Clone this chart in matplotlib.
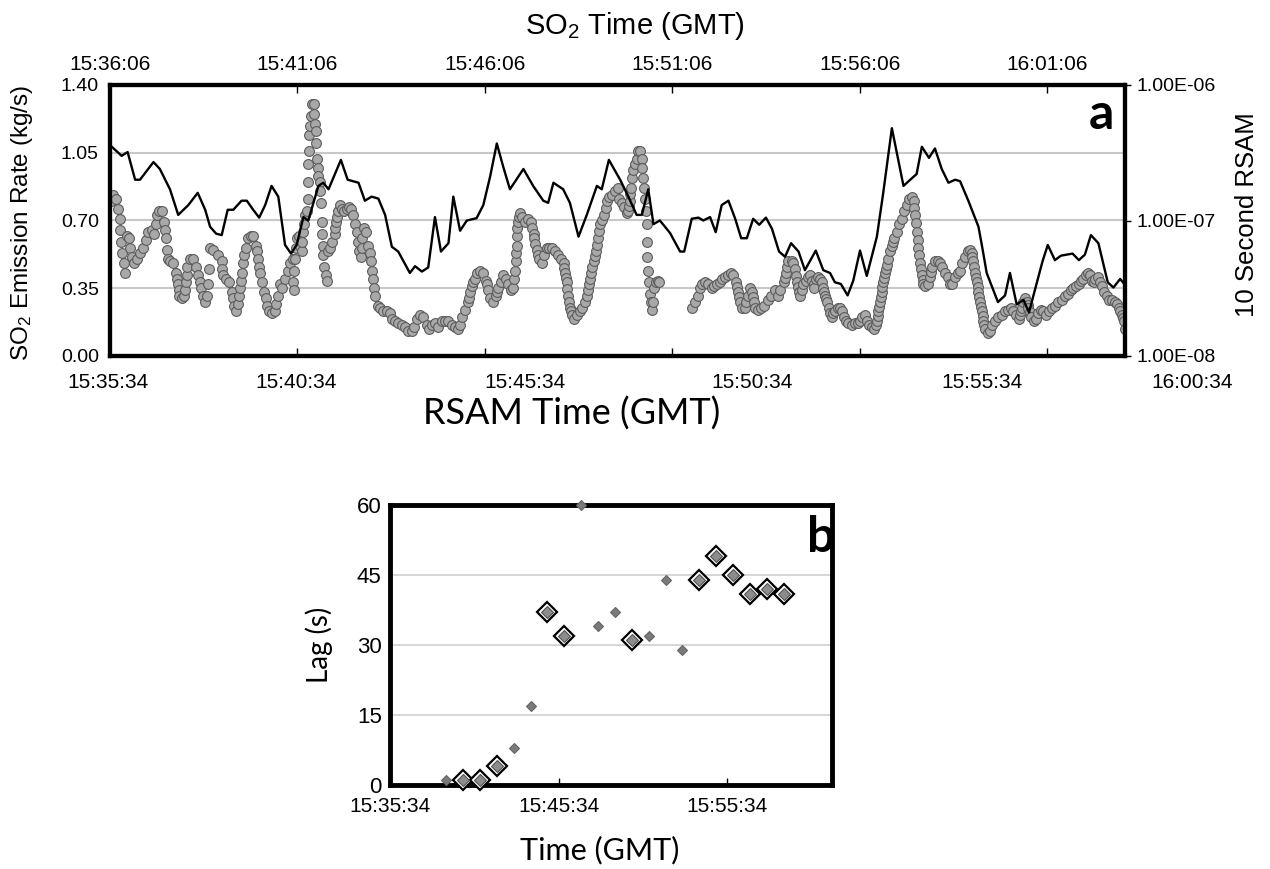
import numpy as np
import matplotlib
matplotlib.use('Agg')
import matplotlib.pyplot as plt
from matplotlib.ticker import FuncFormatter, NullLocator

plt.rcParams['font.family'] = ['Liberation Sans', 'DejaVu Sans']
plt.rcParams['mathtext.fontset'] = 'custom'
plt.rcParams['mathtext.rm'] = 'Liberation Sans'
plt.rcParams['mathtext.it'] = 'Liberation Sans'

# ---- panel a: SO2 emission rate, minutes after 15:36:06 (SO2 clock) ----
so2_t = [0.03, 0.09, 0.15, 0.21, 0.26, 0.28, 0.29, 0.31, 0.37, 0.40, 0.45, 0.51, 0.53, 0.58, 0.65,
         0.71, 0.80, 0.89, 0.95, 1.02, 1.11, 1.18, 1.22, 1.25, 1.31, 1.38, 1.44, 1.47, 1.49, 1.52,
         1.54, 1.60, 1.69, 1.75, 1.78, 1.81, 1.83, 1.84, 1.91, 1.98, 2.01, 2.03, 2.05, 2.06, 2.13,
         2.22, 2.29, 2.36, 2.39, 2.42, 2.47, 2.54, 2.58, 2.62, 2.63, 2.67, 2.76, 2.89, 2.98, 3.00,
         3.02, 3.09, 3.18, 3.25, 3.29, 3.32, 3.35, 3.41, 3.44, 3.47, 3.50, 3.53, 3.56, 3.58, 3.63,
         3.69, 3.76, 3.82, 3.89, 3.92, 3.94, 3.97, 3.99, 4.06, 4.12, 4.15, 4.18, 4.24, 4.31, 4.40,
         4.44, 4.47, 4.54,
         4.60, 4.67, 4.74, 4.80, 4.87, 4.89, 4.90, 4.92, 4.94, 4.96, 4.98, 5.03, 5.07, 5.11, 5.13,
         5.16, 5.18, 5.20, 5.25, 5.27, 5.28, 5.29, 5.30, 5.31, 5.34, 5.36, 5.38, 5.43, 5.45, 5.47,
         5.49, 5.50, 5.51, 5.54, 5.56, 5.59, 5.60, 5.63, 5.65, 5.66, 5.67, 5.69, 5.72, 5.75, 5.78,
         5.81, 5.87, 5.93, 5.99, 6.01, 6.03, 6.05, 6.07, 6.14, 6.20, 6.25, 6.31, 6.38, 6.43, 6.49,
         6.54, 6.58, 6.61, 6.64, 6.70, 6.71, 6.73, 6.77, 6.82, 6.89, 6.93, 6.96, 6.99, 7.03, 7.05,
         7.07, 7.14, 7.20, 7.29, 7.38, 7.47, 7.53, 7.60, 7.69, 7.78, 7.87, 7.96, 8.05, 8.12, 8.18,
         8.27, 8.36, 8.45, 8.51, 8.58, 8.67, 8.76, 8.85, 8.94, 9.03,
         9.12, 9.21, 9.28, 9.34, 9.40, 9.47, 9.54, 9.57, 9.61, 9.65, 9.69, 9.73, 9.78, 9.87, 9.96,
         10.02, 10.05, 10.08, 10.14, 10.23, 10.29, 10.33, 10.36, 10.43, 10.49, 10.56, 10.63, 10.70,
         10.76, 10.79, 10.80, 10.82, 10.83, 10.85, 10.86, 10.87, 10.88, 10.90, 10.94, 11.00, 11.07,
         11.16, 11.23, 11.27, 11.30, 11.32, 11.35, 11.38, 11.42, 11.45, 11.52, 11.59, 11.65, 11.71,
         11.78, 11.87, 11.96, 12.03, 12.10, 12.12, 12.14, 12.16, 12.18, 12.20, 12.23, 12.25, 12.27,
         12.30, 12.32, 12.37, 12.45, 12.54, 12.60, 12.66, 12.72, 12.75, 12.78, 12.80, 12.83, 12.86,
         12.90, 12.93, 12.96, 12.98, 13.01, 13.04, 13.07, 13.12, 13.19, 13.22, 13.25, 13.31, 13.39,
         13.47, 13.56,
         13.58, 13.65, 13.72, 13.79, 13.83, 13.85, 13.87, 13.88, 13.90, 13.94, 13.96, 14.01, 14.05,
         14.10, 14.14, 14.19, 14.20, 14.23, 14.26, 14.27, 14.29, 14.32, 14.33, 14.34, 14.36, 14.38,
         14.41, 14.43, 14.47, 14.50, 14.52, 14.56, 14.61, 14.66,
         15.54, 15.61, 15.68, 15.74, 15.80, 15.88, 15.96, 16.05, 16.12, 16.19, 16.28, 16.34, 16.41,
         16.50, 16.57, 16.63, 16.69, 16.72, 16.75, 16.78, 16.81, 16.87, 16.94, 16.98, 17.02, 17.08,
         17.12, 17.15, 17.17, 17.21, 17.28, 17.37, 17.46, 17.55, 17.64, 17.73, 17.82, 17.88, 17.97,
         18.00, 18.03, 18.06, 18.10,
         18.19, 18.23, 18.28, 18.30, 18.32, 18.35, 18.37, 18.41, 18.45, 18.50, 18.56, 18.61, 18.68,
         18.72, 18.77, 18.79, 18.83, 18.88, 18.94, 18.99, 19.03, 19.05, 19.08, 19.10, 19.12, 19.17,
         19.21, 19.25, 19.30, 19.34, 19.42, 19.48, 19.52, 19.57, 19.63, 19.70, 19.79, 19.88, 19.95,
         20.01, 20.07, 20.13, 20.19, 20.25, 20.32, 20.39, 20.43, 20.46, 20.48, 20.50, 20.52, 20.54,
         20.56, 20.59, 20.61, 20.63, 20.65, 20.68, 20.70, 20.72, 20.77, 20.81, 20.86, 20.89, 20.93,
         20.99, 21.05, 21.12, 21.19, 21.26, 21.32, 21.39, 21.44, 21.46, 21.48, 21.50, 21.52, 21.545,
         21.57, 21.59, 21.61, 21.635, 21.66, 21.68, 21.70, 21.75, 21.82, 21.88, 21.91, 21.94, 22.01,
         22.08, 22.15, 22.21, 22.28, 22.35, 22.41, 22.46, 22.55, 22.62, 22.68,
         22.74, 22.81, 22.88, 22.95, 22.99, 23.01, 23.03, 23.055, 23.08, 23.10, 23.12, 23.145, 23.17,
         23.19, 23.21, 23.235, 23.26, 23.28, 23.30, 23.325, 23.35, 23.42, 23.48, 23.54, 23.61, 23.70,
         23.79, 23.88, 23.97, 24.04, 24.10, 24.16, 24.24, 24.28, 24.30, 24.32, 24.37, 24.41, 24.46,
         24.48, 24.50, 24.535, 24.57, 24.64, 24.70, 24.77, 24.84, 24.90, 24.97, 25.04, 25.13, 25.21,
         25.30, 25.39, 25.48, 25.57, 25.64, 25.70, 25.77, 25.84, 25.91, 25.97, 26.03, 26.09, 26.15,
         26.19, 26.24, 26.28, 26.35, 26.42, 26.46, 26.53, 26.59, 26.66, 26.73, 26.80, 26.86, 26.92,
         26.955, 26.99, 27.025, 27.06, 27.09]
so2_rate = [0.80, 0.83, 0.81, 0.76, 0.71, 0.65, 0.59, 0.53, 0.48, 0.43, 0.62, 0.61, 0.56, 0.51, 0.48,
            0.50, 0.53, 0.56, 0.60, 0.64, 0.65, 0.63, 0.68, 0.73, 0.75, 0.75, 0.69, 0.65, 0.61, 0.55,
            0.50, 0.49, 0.48, 0.43, 0.40, 0.37, 0.34, 0.31, 0.30, 0.31, 0.34, 0.38, 0.42, 0.46, 0.50,
            0.50, 0.46, 0.42, 0.38, 0.35, 0.31, 0.28, 0.31, 0.37, 0.45, 0.56, 0.55, 0.52, 0.49, 0.45,
            0.42, 0.40, 0.38, 0.33, 0.30, 0.26, 0.23, 0.27, 0.31, 0.35, 0.39, 0.43, 0.48, 0.52, 0.56,
            0.61, 0.62, 0.62, 0.57, 0.54, 0.50, 0.46, 0.43, 0.38, 0.33, 0.30, 0.26, 0.23, 0.22, 0.23,
            0.27, 0.31, 0.37,
            0.35, 0.40, 0.44, 0.48, 0.50, 0.38, 0.44, 0.34, 0.50, 0.56, 0.61, 0.62, 0.57, 0.54, 0.59,
            0.64, 0.68, 0.73, 0.75, 0.81, 0.90, 0.99, 1.06, 1.14, 1.19, 1.24, 1.30, 1.30, 1.25, 1.20,
            1.16, 1.10, 1.02, 0.97, 0.93, 0.90, 0.85, 0.79, 0.69, 0.63, 0.57, 0.52, 0.46, 0.42, 0.39,
            0.54, 0.56, 0.59, 0.63, 0.66, 0.69, 0.72, 0.75, 0.78, 0.76, 0.75, 0.76, 0.77, 0.76, 0.73,
            0.68, 0.64, 0.59, 0.54, 0.51, 0.56, 0.61, 0.66, 0.64, 0.57, 0.53, 0.49, 0.44, 0.40, 0.35,
            0.31, 0.26, 0.25, 0.23, 0.23, 0.22, 0.19, 0.18, 0.17, 0.16, 0.15, 0.13, 0.13, 0.15, 0.19,
            0.21, 0.20, 0.16, 0.14, 0.16, 0.17, 0.15, 0.18, 0.18, 0.18,
            0.16, 0.15, 0.14, 0.16, 0.20, 0.24, 0.28, 0.30, 0.33, 0.36, 0.38, 0.40, 0.43, 0.44, 0.43,
            0.39, 0.37, 0.34, 0.30, 0.28, 0.31, 0.33, 0.35, 0.38, 0.42, 0.40, 0.37, 0.34,
            0.35, 0.40, 0.44, 0.49, 0.53, 0.57, 0.62, 0.66, 0.69, 0.72, 0.74, 0.72, 0.69,
            0.71, 0.69, 0.66, 0.63, 0.61, 0.58, 0.55, 0.52, 0.50, 0.48, 0.52, 0.56, 0.56,
            0.56, 0.54, 0.52, 0.50, 0.48, 0.455, 0.43, 0.405, 0.38, 0.345, 0.31, 0.28, 0.25,
            0.23, 0.21, 0.19, 0.21, 0.23, 0.25, 0.28, 0.31, 0.34, 0.37, 0.40, 0.43, 0.46,
            0.49, 0.515, 0.54, 0.575, 0.61, 0.645, 0.68, 0.70, 0.73, 0.765, 0.80, 0.82, 0.83,
            0.85, 0.87,
            0.81, 0.79, 0.77, 0.74, 0.75, 0.775, 0.80, 0.835, 0.87, 0.92, 0.96, 0.99, 1.02,
            1.06, 1.06, 1.02, 0.97, 0.92, 0.87, 0.81, 0.75, 0.68, 0.59, 0.51, 0.44, 0.38,
            0.32, 0.28, 0.24, 0.28, 0.35, 0.38, 0.39, 0.38,
            0.25, 0.28, 0.31, 0.35, 0.37, 0.38, 0.37, 0.35, 0.36, 0.37, 0.38, 0.40, 0.41,
            0.42, 0.43, 0.42, 0.38, 0.355, 0.33, 0.305, 0.28, 0.25, 0.25, 0.28, 0.31, 0.35,
            0.33, 0.305, 0.28, 0.25, 0.24, 0.25, 0.26, 0.29, 0.31, 0.34, 0.31, 0.34, 0.38,
            0.405, 0.43, 0.46, 0.49,
            0.49, 0.48, 0.45, 0.415, 0.38, 0.355, 0.33, 0.31, 0.34, 0.37, 0.39, 0.41, 0.42,
            0.39, 0.37, 0.35, 0.40, 0.41, 0.40, 0.38, 0.35, 0.33, 0.31, 0.295, 0.28, 0.25,
            0.22, 0.20, 0.22, 0.23, 0.25, 0.25, 0.23, 0.20, 0.18, 0.17, 0.16, 0.17, 0.17,
            0.18, 0.20, 0.21, 0.18, 0.16, 0.15, 0.14, 0.16, 0.18, 0.205, 0.23, 0.255, 0.28,
            0.305, 0.33, 0.355, 0.38, 0.405, 0.43, 0.45, 0.47, 0.50, 0.54, 0.57, 0.59, 0.61,
            0.64, 0.68, 0.71, 0.75, 0.78, 0.81, 0.82, 0.80, 0.765, 0.73, 0.685, 0.64, 0.60,
            0.56, 0.52, 0.48, 0.45, 0.42, 0.395, 0.37, 0.36, 0.37, 0.41, 0.435, 0.46, 0.49,
            0.49, 0.48, 0.46, 0.43, 0.41, 0.37, 0.37, 0.41, 0.43, 0.44,
            0.48, 0.51, 0.54, 0.55, 0.53, 0.51, 0.49, 0.46, 0.43, 0.405, 0.38, 0.355, 0.33,
            0.305, 0.28, 0.255, 0.23, 0.205, 0.18, 0.16, 0.14, 0.12, 0.13, 0.16, 0.18, 0.20,
            0.21, 0.23, 0.24, 0.25, 0.23, 0.21, 0.19, 0.21, 0.23, 0.25, 0.28, 0.30, 0.28,
            0.265, 0.25, 0.225, 0.20, 0.18, 0.19, 0.22, 0.24, 0.23, 0.21, 0.23, 0.25, 0.26,
            0.28, 0.29, 0.31, 0.32, 0.34, 0.35, 0.36, 0.37, 0.39, 0.40, 0.42, 0.43, 0.42,
            0.39, 0.38, 0.40, 0.41, 0.38, 0.36, 0.33, 0.31, 0.29, 0.29, 0.28, 0.27, 0.25,
            0.23, 0.21, 0.195, 0.18, 0.14]

# 10 second RSAM on the same clock
rsam_t = [0.00, 0.31, 0.47, 0.67, 0.80, 1.16, 1.33, 1.60, 1.82, 2.09, 2.34, 2.54, 2.67, 2.83, 2.98,
          3.14, 3.29, 3.51, 3.65, 3.82, 3.98, 4.14, 4.31, 4.49, 4.67, 4.83, 4.98, 5.16, 5.29, 5.56,
          5.69, 5.83, 6.16, 6.34, 6.63, 6.80, 6.98, 7.16, 7.34, 7.52, 7.69, 7.83, 8.00, 8.14, 8.32,
          8.49, 8.67, 8.83, 9.03, 9.16, 9.34, 9.52, 9.78, 9.96, 10.14, 10.32, 10.49, 10.67, 11.03,
          11.29, 11.56, 11.69, 11.83, 12.09, 12.27, 12.50, 12.72, 12.99, 13.12, 13.31, 13.61, 13.83,
          14.05, 14.19, 14.36, 14.50, 14.67, 14.94, 15.21, 15.32, 15.52, 15.70, 15.83, 16.01, 16.16,
          16.32, 16.50, 16.68, 16.84, 16.99, 17.16, 17.32, 17.50, 17.66, 17.85, 18.01, 18.17, 18.37,
          18.54, 18.83, 19.03, 19.21, 19.34, 19.50, 19.68, 19.83, 20.01, 20.19, 20.46, 20.63, 20.86,
          21.17, 21.35, 21.52, 21.66, 21.85, 22.01, 22.19, 22.37, 22.55, 22.68, 22.90, 23.17, 23.26,
          23.39, 23.69, 23.88, 24.01, 24.19, 24.37, 24.52, 24.68, 24.88, 25.02, 25.21, 25.37, 25.68,
          25.85, 26.01, 26.17, 26.37, 26.62, 26.77, 26.95, 27.10]
rsam = [3.6e-7, 3.0e-7, 3.2e-7, 2.0e-7, 2.0e-7, 2.7e-7, 2.4e-7, 1.7e-7, 1.1e-7, 1.3e-7, 1.6e-7,
        1.2e-7, 9.0e-8, 8.0e-8, 7.8e-8, 1.2e-7, 1.2e-7, 1.4e-7, 1.4e-7, 1.2e-7, 1.05e-7, 1.3e-7,
        1.8e-7, 1.5e-7, 6.6e-8, 5.7e-8, 6.6e-8, 1.06e-7, 1.0e-7, 1.8e-7, 1.9e-7, 1.7e-7, 2.8e-7,
        2.0e-7, 1.9e-7, 1.4e-7, 1.5e-7, 1.45e-7, 1.1e-7, 6.4e-8, 5.9e-8, 5.0e-8, 4.1e-8, 4.6e-8,
        4.2e-8, 4.5e-8, 1.06e-7, 5.9e-8, 6.8e-8, 1.5e-7, 8.4e-8, 1.0e-7, 1.04e-7, 1.3e-7, 2.1e-7,
        3.7e-7, 2.5e-7, 1.7e-7, 2.4e-7, 1.8e-7, 1.4e-7, 1.35e-7, 1.9e-7, 1.7e-7, 1.35e-7, 7.6e-8,
        1.1e-7, 1.8e-7, 1.7e-7, 2.8e-7, 2.0e-7, 1.5e-7, 1.1e-7, 1.1e-7, 1.7e-7, 9.4e-8, 1.0e-7,
        8.1e-8, 5.9e-8, 5.9e-8, 1.03e-7, 1.05e-7, 1.0e-7, 1.06e-7, 8.2e-8, 1.3e-7, 1.4e-7, 1.03e-7,
        7.4e-8, 7.4e-8, 1.03e-7, 9.3e-8, 1.05e-7, 8.7e-8, 5.9e-8, 5.4e-8, 6.8e-8, 5.9e-8, 4.3e-8,
        6.0e-8, 4.3e-8, 4.1e-8, 3.5e-8, 3.4e-8, 2.8e-8, 3.6e-8, 6.0e-8, 3.9e-8, 7.6e-8, 1.6e-7,
        4.8e-7, 1.8e-7, 2.0e-7, 2.2e-7, 3.5e-7, 2.9e-7, 3.4e-7, 2.4e-7, 1.9e-7, 2.0e-7, 1.95e-7,
        1.4e-7, 9.0e-8, 6.6e-8, 4.1e-8, 2.5e-8, 2.8e-8, 4.1e-8, 2.4e-8, 2.6e-8, 2.1e-8, 3.1e-8,
        5.0e-8, 6.6e-8, 5.1e-8, 5.5e-8, 5.7e-8, 5.1e-8, 5.6e-8, 7.8e-8, 6.8e-8, 3.5e-8, 3.2e-8,
        3.7e-8, 3.3e-8]

so2_yticks = [0.00, 0.35, 0.70, 1.05, 1.40]
rsam_yticks = [1e-8, 1e-7, 1e-6]
so2_ticks = ['15:36:06', '15:41:06', '15:46:06', '15:51:06', '15:56:06', '16:01:06']
rsam_ticks = ['15:35:34', '15:40:34', '15:45:34', '15:50:34', '15:55:34', '16:00:34']
# where the RSAM labels sit, in minutes on the SO2 clock
rsam_tick_at = [-0.05, 4.96, 11.07, 17.13, 23.27, 28.87]

# ---- panel b: lag between RSAM and SO2 ----
lag_time = ['15:38:54', '15:39:54', '15:40:54', '15:41:54', '15:42:54', '15:43:54', '15:44:54',
            '15:45:54', '15:46:54', '15:47:54', '15:48:54', '15:49:54', '15:50:54', '15:51:54',
            '15:52:54', '15:53:54', '15:54:54', '15:55:54', '15:56:54', '15:57:54', '15:58:54']
lag_s = [1, 1, 1, 4, 8, 17, 37, 32, 60, 34, 37, 31, 32, 44, 29, 44, 49, 45, 41, 42, 41]
lag_big = [0, 1, 1, 1, 0, 0, 1, 1, 0, 0, 0, 1, 0, 0, 0, 1, 1, 1, 1, 1, 1]
lag_yticks = [0, 15, 30, 45, 60]
lag_ticks = ['15:35:34', '15:45:34', '15:55:34']


def minutes(hms, start):
    h, m, s = (int(p) for p in hms.split(':'))
    h0, m0, s0 = (int(p) for p in start.split(':'))
    return ((h * 3600 + m * 60 + s) - (h0 * 3600 + m0 * 60 + s0)) / 60.0


W, H = 1270, 869
def rect(l, t, r, b):
    return [l / W, 1 - b / H, (r - l) / W, (b - t) / H]

px_per_min = 37.48   # SO2 clock scale of panel a
lab_font = ['Lato', 'DejaVu Sans']

fig = plt.figure(figsize=(12.7, 8.69), dpi=100)

# ---------------- panel a ----------------
ax = fig.add_axes(rect(110, 85, 1125, 356))
ax.scatter(so2_t, so2_rate, s=50, facecolor='#a8a8a8', edgecolor='#5c5c5c',
           linewidth=0.8, zorder=3)
ax.set_xlim(0, 27.08)
ax.set_ylim(0, 1.40)
ax.set_yticks(so2_yticks, [f'{v:.2f}' for v in so2_yticks])
ax.grid(axis='y', color='#c8c8c8', lw=1.5)
ax.set_axisbelow(True)

ax.set_xticks([minutes(t, so2_ticks[0]) for t in so2_ticks], so2_ticks)
ax.tick_params(axis='x', top=True, bottom=True, labeltop=True, labelbottom=False,
               direction='in', length=6, width=1, pad=8, labelsize=15)
ax.tick_params(axis='y', length=0, pad=8, labelsize=14)
for sp in ax.spines.values():
    sp.set_linewidth(3)

ax.xaxis.set_label_position('top')
ax.set_xlabel('SO$_2$ Time (GMT)', fontsize=21)
ax.xaxis.set_label_coords((635 - 110) / 1015, 1.19)
ax.set_ylabel('SO$_2$ Emission Rate (kg/s)', fontsize=17.5)
ax.yaxis.set_label_coords(-0.074, 0.49)
ax.text(0.977, 0.89, 'a', transform=ax.transAxes, ha='center', va='center',
        fontsize=36, fontweight='bold', family=lab_font)

axr = ax.twinx()
axr.plot(rsam_t, rsam, color='black', lw=1.7)
axr.set_yscale('log')
axr.set_ylim(1e-8, 1e-6)
axr.set_yticks(rsam_yticks)
axr.yaxis.set_major_formatter(FuncFormatter(lambda v, _: f'{v:.2E}'))
axr.yaxis.set_minor_locator(NullLocator())
axr.tick_params(axis='y', length=4, width=1, pad=4, labelsize=14)
for sp in axr.spines.values():
    sp.set_linewidth(3)
axr.set_ylabel('10 Second RSAM', fontsize=18.5)
axr.yaxis.set_label_coords(1.108, 0.52)

# RSAM clock labels below panel a
axl = fig.add_axes(rect(40, 85, 1260, 356), frameon=False)
axl.set_zorder(-1)
axl.set_xlim((40 - 110) / px_per_min, (1260 - 110) / px_per_min)
axl.set_yticks([])
axl.set_xticks(rsam_tick_at, rsam_ticks)
axl.tick_params(axis='x', length=0, pad=12, labelsize=15)
axl.set_xlabel('RSAM Time (GMT)', fontsize=26, family=lab_font)
axl.xaxis.set_label_coords((572 - 40) / 1220, -0.148)

# ---------------- panel b ----------------
axb = fig.add_axes(rect(390, 505, 832, 785))
lx = np.array([minutes(t, lag_ticks[0]) for t in lag_time])
ly = np.array(lag_s)
big = np.array(lag_big, dtype=bool)
axb.plot(lx[~big], ly[~big], ls='none', marker='D', ms=5, mfc='#7a7a7a', mec='#666666',
         mew=0.8, clip_on=False, zorder=5)
axb.plot(lx[big], ly[big], ls='none', marker='D', ms=10.5, mfc='white', mec='black',
         mew=1.6, clip_on=False, zorder=5)
axb.plot(lx[big], ly[big], ls='none', marker='D', ms=6.5, mfc='#8c8c8c', mec='#555555',
         mew=0.8, clip_on=False, zorder=6)
axb.set_xlim(0, 26.2)
axb.set_ylim(0, 60)
axb.set_yticks(lag_yticks)
axb.set_xticks([minutes(t, lag_ticks[0]) for t in lag_ticks], lag_ticks)
axb.grid(axis='y', color='#cfcfcf', lw=1.2)
axb.set_axisbelow(True)
axb.tick_params(axis='x', direction='in', length=5, width=1, pad=9, labelsize=15)
axb.tick_params(axis='y', length=0, pad=6, labelsize=16)
for sp in axb.spines.values():
    sp.set_linewidth(3.5)
axb.set_ylabel('Lag (s)', fontsize=20, family=lab_font)
axb.yaxis.set_label_coords(-0.13, 0.5)
axb.set_xlabel('Time (GMT)', fontsize=22, family=lab_font)
axb.xaxis.set_label_coords(0.475, -0.18)
axb.text(0.975, 0.885, 'b', transform=axb.transAxes, ha='center', va='center',
         fontsize=36, fontweight='bold', family=lab_font)

fig.savefig('out.png', dpi=100)
